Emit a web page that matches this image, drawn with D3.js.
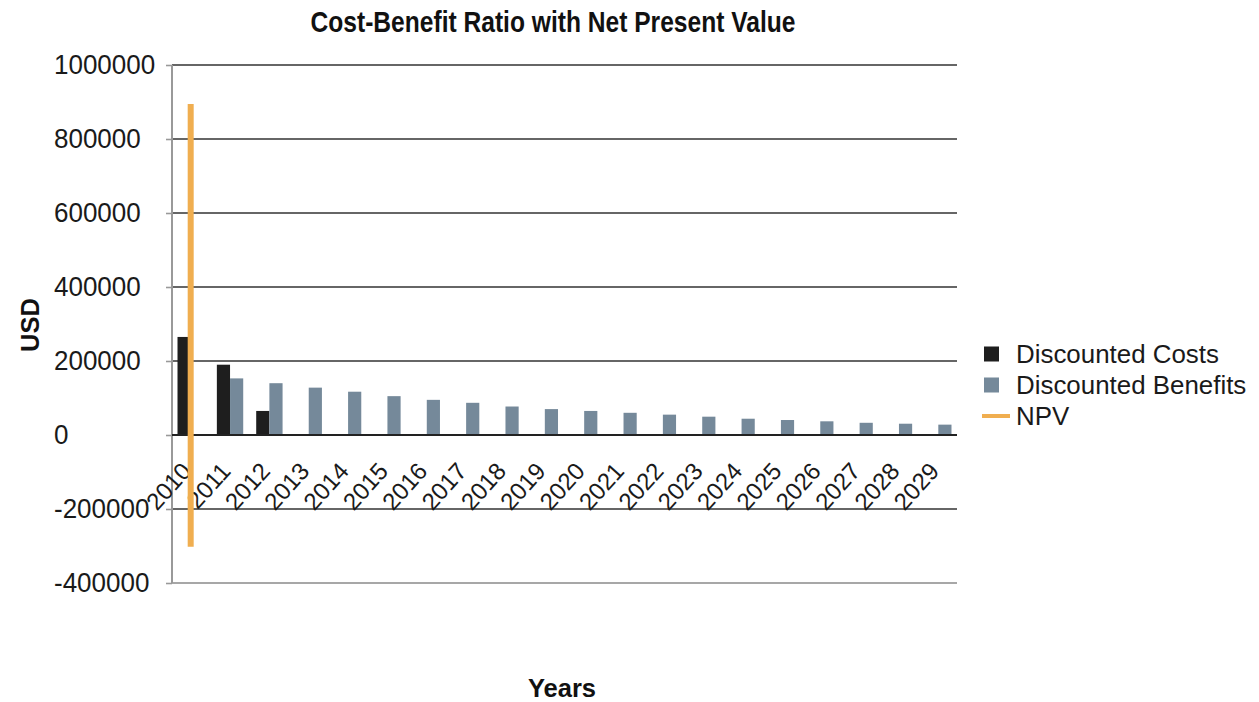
<!DOCTYPE html>
<html>
<head>
<meta charset="utf-8">
<script src="https://cdn.jsdelivr.net/npm/d3@7"></script>
<style>
  html, body { margin: 0; padding: 0; background: #fff; }
  svg { display: block; font-family: "Liberation Sans", Arial, sans-serif; }
</style>
</head>
<body>
<svg id="chart" width="1259" height="702"></svg>
<script>
// Years on the category axis
const years = ["2010","2011","2012","2013","2014","2015","2016","2017","2018","2019",
               "2020","2021","2022","2023","2024","2025","2026","2027","2028","2029"];
// Discounted costs per year (USD)
const discountedCosts = [265000, 190000, 65000, 0, 0, 0, 0, 0, 0, 0,
                         0, 0, 0, 0, 0, 0, 0, 0, 0, 0];
// Discounted benefits per year (USD)
const discountedBenefits = [0, 153000, 140000, 128000, 117000, 105000, 95000, 87000, 77000, 70000,
                            65000, 60000, 55000, 49500, 44000, 40500, 37000, 33000, 30500, 28000];
// Running net present value (USD)
const npv = [-265000, -302000, -227000, -99000, 18000, 123000, 218000, 305000, 382000, 452000,
             517000, 577000, 632000, 681500, 725500, 766000, 803000, 836000, 866500, 894500];
// Value axis ticks
const yTicks = [-400000, -200000, 0, 200000, 400000, 600000, 800000, 1000000];

const seriesNames = ["Discounted Costs", "Discounted Benefits", "NPV"];
const colors = { costs: "#1e1e1e", benefits: "#75899a", npv: "#f0ae50" };

const svg = d3.select("#chart");
const plot = { left: 172, right: 957, top: 65, bottom: 583 };

const x0 = d3.scaleBand().domain(years)
  .range([plot.left, plot.right])
  .paddingInner(0.33).paddingOuter(0.14);
const x1 = d3.scaleBand().domain(["costs", "benefits"])
  .range([0, x0.bandwidth()]);
const y = d3.scaleLinear().domain([-400000, 1000000]).range([plot.bottom, plot.top]);

// Plain hyphen for negatives
const fmt = v => (v < 0 ? "-" : "") + Math.abs(v);

// Title (slightly tall, condensed face)
svg.append("text")
  .attr("transform", "translate(553,22) scale(1,1.18)")
  .attr("text-anchor", "middle").attr("dominant-baseline", "central")
  .style("font-size", "24.6px").style("font-weight", "bold").attr("fill", "#111")
  .text("Cost-Benefit Ratio with Net Present Value");

// Horizontal gridlines
svg.append("g").selectAll("line").data(yTicks.filter(t => t !== 0)).join("line")
  .attr("x1", plot.left).attr("x2", plot.right)
  .attr("y1", d => y(d)).attr("y2", d => y(d))
  .attr("stroke", d => d === yTicks[0] ? "#8a8a8a" : "#333")
  .attr("stroke-width", 1.6);

// Value axis with left tick marks
const yAxis = svg.append("g")
  .attr("transform", `translate(${plot.left},0)`)
  .call(d3.axisLeft(y).tickValues(yTicks).tickSize(6).tickFormat(""));
yAxis.select(".domain").attr("stroke", "#999").attr("stroke-width", 2)
  .attr("d", `M0,${plot.top}V${plot.bottom}`);
yAxis.selectAll(".tick line").attr("stroke", "#999").attr("stroke-width", 1.6);

// Value axis labels, left aligned
svg.append("g").selectAll("text").data(yTicks).join("text")
  .attr("transform", d => `translate(54,${y(d)}) scale(1,1.06)`)
  .attr("dominant-baseline", "central")
  .style("font-size", "26px").attr("fill", "#1a1a1a")
  .text(fmt);

// Bars
const groups = svg.append("g").selectAll("g").data(years).join("g")
  .attr("transform", d => `translate(${x0(d)},0)`);
groups.append("rect")
  .attr("x", x1("costs")).attr("width", x1.bandwidth())
  .attr("y", (d, i) => y(Math.max(0, discountedCosts[i])))
  .attr("height", (d, i) => Math.abs(y(discountedCosts[i]) - y(0)))
  .attr("fill", colors.costs);
groups.append("rect")
  .attr("x", x1("benefits")).attr("width", x1.bandwidth())
  .attr("y", (d, i) => y(Math.max(0, discountedBenefits[i])))
  .attr("height", (d, i) => Math.abs(y(discountedBenefits[i]) - y(0)))
  .attr("fill", colors.benefits);

// Zero baseline
svg.append("line")
  .attr("x1", plot.left).attr("x2", plot.right)
  .attr("y1", y(0)).attr("y2", y(0))
  .attr("stroke", "#222").attr("stroke-width", 2);

// Category labels, rotated
svg.append("g").selectAll("text").data(years).join("text")
  .attr("transform", d => `translate(${x0(d) + x0.bandwidth() / 2 + 2},472) rotate(-48)`)
  .attr("text-anchor", "end")
  .style("font-size", "24px").attr("fill", "#1a1a1a")
  .text(d => d);

// NPV series: every point sits on the first category
const npvLine = d3.line()
  .x(() => x0(years[0]) + x0.bandwidth() / 2)
  .y(d => y(d));
svg.append("path")
  .datum(npv)
  .attr("d", npvLine)
  .attr("fill", "none")
  .attr("stroke", colors.npv)
  .attr("stroke-width", 6);

// Axis titles
svg.append("text")
  .attr("x", 562).attr("y", 688)
  .attr("text-anchor", "middle").attr("dominant-baseline", "central")
  .style("font-size", "25.5px").style("font-weight", "bold").attr("fill", "#111")
  .text("Years");
svg.append("text")
  .attr("transform", "translate(30,325) rotate(-90)")
  .attr("text-anchor", "middle").attr("dominant-baseline", "central")
  .style("font-size", "25.5px").style("font-weight", "bold").attr("fill", "#111")
  .text("USD");

// Legend
const legend = svg.append("g");
const rowY = [354, 385, 416];
legend.append("rect").attr("x", 984).attr("y", rowY[0] - 7.5).attr("width", 15).attr("height", 15)
  .attr("fill", colors.costs);
legend.append("rect").attr("x", 984).attr("y", rowY[1] - 7.5).attr("width", 15).attr("height", 15)
  .attr("fill", colors.benefits);
legend.append("line").attr("x1", 982).attr("x2", 1010).attr("y1", rowY[2]).attr("y2", rowY[2])
  .attr("stroke", colors.npv).attr("stroke-width", 4);
legend.selectAll("text").data(seriesNames).join("text")
  .attr("x", 1016).attr("y", (d, i) => rowY[i])
  .attr("dominant-baseline", "central")
  .style("font-size", "25.9px").attr("fill", "#1a1a1a")
  .text(d => d);
</script>
</body>
</html>
